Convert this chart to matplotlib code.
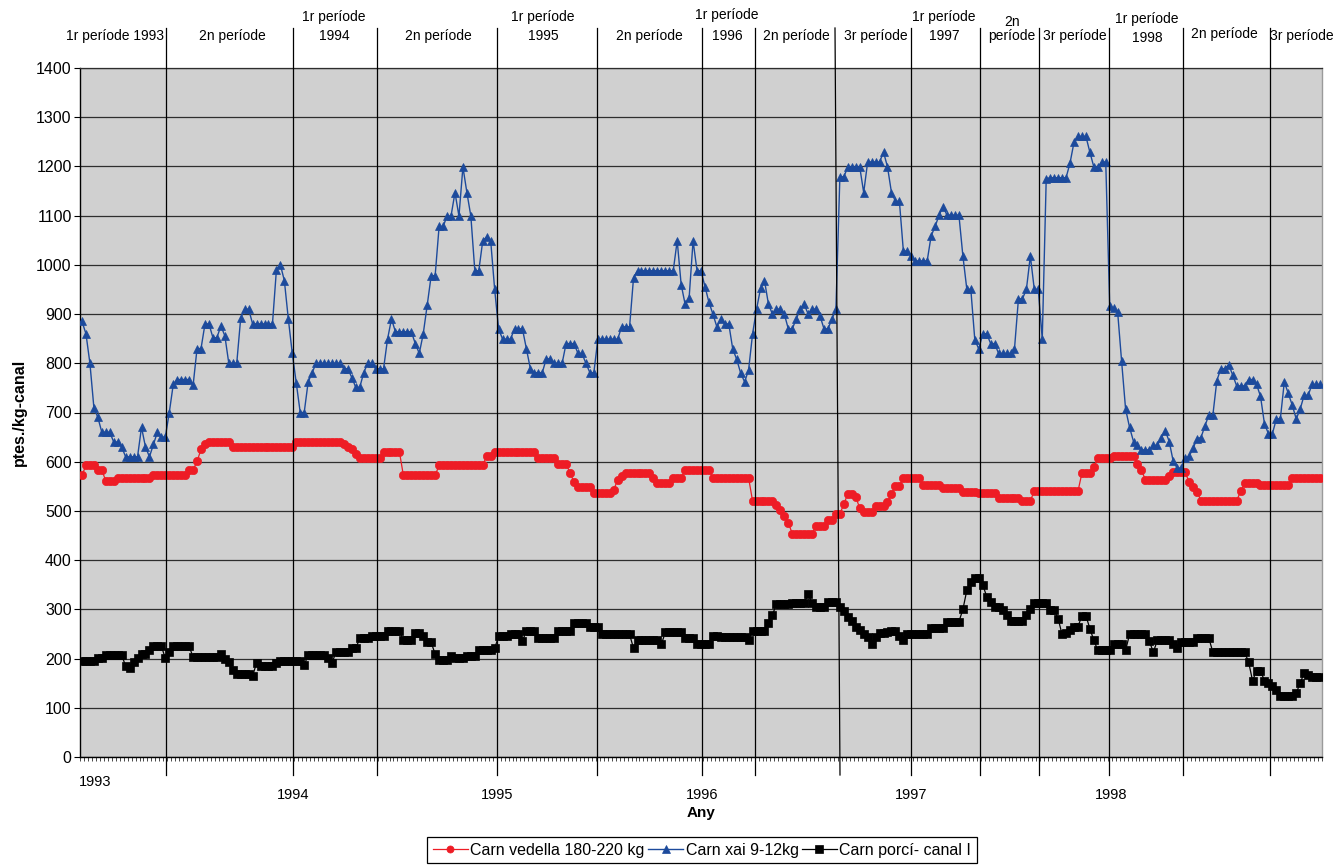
import numpy as np
import matplotlib
matplotlib.use('Agg')
import matplotlib.pyplot as plt
import matplotlib.transforms as mtransforms

plt.rcParams['font.family'] = ['Liberation Sans', 'DejaVu Sans']

# ---------------- data (weekly prices, ptes./kg-canal) ----------------
series_names = ["Carn vedella 180-220 kg", "Carn xai 9-12kg", "Carn porcí- canal I"]

vedella = [
    572, 593, 593, 593, 583, 583, 561, 561, 561, 567,
    567, 567, 567, 567, 567, 567, 567, 567, 572, 572,
    572, 572, 572, 572, 572, 572, 572, 583, 583, 601,
    625, 635, 641, 641, 641, 641, 641, 641, 630, 630,
    630, 630, 630, 630, 630, 630, 630, 630, 630, 630,
    630, 630, 630, 630,
    641, 641, 641, 641, 641, 641, 641, 641, 641, 641,
    641, 641, 635, 630, 625, 615, 607, 607, 607, 607,
    607, 607, 620, 620, 620, 620, 620, 572, 572, 572,
    572, 572, 572, 572, 572, 572, 593, 593, 593, 593,
    593, 593, 593, 593, 593, 593, 593, 593, 612, 612,
    620, 620, 620, 620, 620, 620, 620, 620, 620, 620,
    620, 607, 607, 607, 607, 607, 596, 596, 596, 577,
    559, 548, 548, 548, 548, 536, 536, 536, 536, 536,
    543, 563, 571, 577, 577, 577, 577, 577, 577, 577,
    567, 556, 556, 556, 556, 567, 567, 567, 583, 583,
    583, 583, 583, 583, 583,
    567, 567, 567, 567, 567, 567, 567, 567, 567, 567,
    520, 520, 520, 520, 520, 520, 513, 502, 490, 476,
    454, 454, 454, 454, 454, 454, 470, 470, 470, 481,
    481, 494, 494, 514, 535, 535, 528, 506, 497, 497,
    497, 510, 510, 510, 518, 535, 551, 551, 567, 567,
    567, 567, 567,
    553, 553, 553, 553, 553, 547, 547, 547, 547, 547,
    539, 539, 539, 539, 536, 536, 536, 536, 536, 526,
    526, 526, 526, 526, 526, 521, 521, 521, 540, 540,
    540, 540, 540, 540, 540, 540, 540, 540, 540, 540,
    577, 577, 577, 590, 607, 607, 607, 607,
    612, 612, 612, 612, 612, 612, 596, 583, 563, 563,
    563, 563, 563, 563, 571, 579, 579, 579, 579, 559,
    548, 539, 521, 521, 521, 521, 521, 521, 521, 521,
    521, 521, 540, 556, 556, 556, 556, 553, 553, 553,
    553, 553, 553, 553, 553, 567, 567, 567, 567, 567,
    567, 567, 567,
]

xai = [
    885, 860, 800, 710, 690, 660, 660, 660, 640, 640,
    630, 610, 610, 610, 610, 670, 630, 610, 635, 660,
    650, 650, 700, 757, 767, 767, 767, 767, 755, 830,
    830, 880, 880, 852, 852, 876, 856, 800, 800, 800,
    892, 910, 910, 880, 880, 880, 880, 880, 880, 990,
    1000, 968, 890, 820, 760, 700, 700,
    762, 781, 800, 800, 800, 800, 800, 800, 800, 789,
    789, 771, 751, 751, 781, 800, 800, 789, 789, 789,
    849, 890, 864, 864, 864, 864, 864, 840, 820, 860,
    918, 978, 978, 1078, 1078, 1099, 1099, 1147, 1099, 1199,
    1147, 1099, 988, 988, 1049, 1057, 1049,
    950, 870, 849, 849, 849, 870, 870, 870, 829, 789,
    781, 781, 781, 809, 809, 800, 800, 800, 840, 840,
    840, 820, 820, 800, 781, 781, 849, 849, 849, 849,
    849, 849, 874, 874, 874, 974, 988, 988, 988, 988,
    988, 988, 988, 988, 988, 988, 1049, 960, 920, 932,
    1049, 988, 988, 956, 924, 900, 874,
    890, 880, 880, 829, 808, 780, 762, 787, 860, 910,
    952, 968, 920, 900, 910, 910, 900, 870, 870, 890,
    910, 920, 900, 910, 910, 896, 870, 870, 890, 910,
    1179, 1179, 1199, 1199, 1199, 1199, 1147, 1209, 1209, 1209,
    1209, 1229, 1199, 1147, 1129, 1129, 1028, 1028, 1019, 1008,
    1008, 1008, 1008,
    1059, 1078, 1101, 1118, 1101, 1101, 1101, 1101, 1018, 950,
    950, 848, 829, 860, 860, 840, 840, 820, 820, 820,
    820, 829, 931, 931, 950, 1018, 950, 950, 849, 1175,
    1177, 1177, 1177, 1177, 1177, 1207, 1249, 1261, 1261, 1261,
    1229, 1199, 1199, 1209, 1209,
    916, 912, 904, 804, 707, 670, 641, 633, 624, 624,
    624, 633, 633, 649, 663, 641, 601, 587, 587, 607,
    611, 627, 647, 649, 673, 695, 695, 765, 789, 789,
    797, 776, 754, 754, 754, 767, 767, 757, 733, 677,
    657, 657, 687, 687, 762, 739, 715, 687, 707, 735,
    735, 757, 757, 757,
]

porci = [
    196, 196, 196, 196, 201, 201, 207, 207, 207, 207,
    207, 185, 180, 193, 201, 209, 209, 217, 225, 225,
    225, 201, 213, 225, 225, 225, 225, 225, 203, 203,
    203, 203, 203, 203, 203, 209, 200, 193, 176, 168,
    168, 168, 168, 165, 191, 184, 184, 184, 184, 191,
    195, 195, 195, 195, 195, 195,
    187, 207, 207, 207, 207, 207, 201, 191, 213, 213,
    213, 213, 221, 221, 241, 241, 241, 245, 245, 245,
    245, 256, 256, 256, 256, 237, 237, 237, 251, 251,
    245, 233, 233, 209, 197, 197, 197, 205, 201, 201,
    201, 205, 205, 205, 217, 217, 217, 217,
    221, 245, 245, 245, 249, 249, 249, 235, 257, 257,
    257, 241, 241, 241, 241, 241, 257, 257, 257, 257,
    273, 273, 273, 273, 265, 265, 265, 249, 249, 249,
    249, 249, 249, 249, 249, 221, 237, 237, 237, 237,
    237, 237, 229, 253, 253, 253, 253, 253, 241, 241,
    241, 229, 229, 229, 229,
    245, 245, 243, 243, 243, 243, 243, 243, 243, 237,
    257, 257, 257, 257, 273, 289, 310, 310, 310, 310,
    313, 313, 313, 313, 331, 313, 305, 305, 305, 315,
    315, 315, 305, 297, 285, 277, 265, 258, 250, 243,
    229, 243, 251, 251, 254, 257, 257, 245, 237, 249,
    249, 249, 249, 249, 249,
    263, 263, 263, 263, 275, 275, 275, 275, 300, 339,
    355, 363, 363, 350, 326, 315, 304, 304, 298, 289,
    277, 277, 277, 277, 289, 301, 313, 313, 313, 313,
    298, 298, 281, 249, 251, 258, 265, 265, 287, 287,
    261, 237,
    217, 217, 217, 217, 229, 229, 229, 217, 249, 249,
    249, 249, 249, 235, 213, 237, 237, 237, 237, 229,
    221, 233, 233, 233, 233, 241, 241, 241, 241, 213,
    213, 213, 213, 213, 213, 213, 213, 213, 193, 155,
    175, 175, 155, 150, 144, 136, 124, 124, 124, 124,
    130, 150, 171, 167, 163, 163, 163,
]

year_labels = ["1993", "1994", "1995", "1996", "1997", "1998"]
# period labels: (first line, second line)
period_labels = [
    ("1r període 1993", None), ("2n període", None), ("1r període", "1994"),
    ("2n període", None), ("1r període", "1995"), ("2n període", None),
    ("1r període", "1996"), ("2n període", None), ("3r període", None),
    ("1r període", "1997"), ("2n", "període"), ("3r període", None),
    ("1r període", "1998"), ("2n període", None), ("3r període", None),
]

# ---------------- layout ----------------
W, H = 1339, 867
fig = plt.figure(figsize=(W / 100, H / 100), dpi=100)
fig.patch.set_facecolor('white')


def fx(px):
    return px / W


def fy(py):
    return 1 - py / H


AX_L, AX_R, AX_T, AX_B = 80, 1322, 68, 757
ax = fig.add_axes([fx(AX_L), fy(AX_B), (AX_R - AX_L) / W, (AX_B - AX_T) / H])
ax.set_facecolor('#D0D0D0')

N = len(vedella)
ax.set_xlim(-0.5, N - 0.5)
ax.set_ylim(0, 1400)

ax.yaxis.grid(True, color='#2E2E2E', lw=0.9)
ax.set_axisbelow(True)

red = '#EE1C25'
blue = '#1C4A9C'
blk = '#000000'
l1, = ax.plot(np.arange(len(vedella)), vedella, color=red, lw=0.9, marker='o',
              ms=6.0, mfc=red, mec=red, mew=0.5, label=series_names[0], zorder=3)
l2, = ax.plot(np.arange(len(xai)), xai, color=blue, lw=1.0, marker='^',
              ms=6.4, mfc=blue, mec=blue, mew=0.5, label=series_names[1], zorder=4)
l3, = ax.plot(np.arange(len(porci)), porci, color=blk, lw=0.9, marker='s',
              ms=6.0, mfc=blk, mec=blk, mew=0.5, label=series_names[2], zorder=5)

ax.set_yticks(range(0, 1401, 100))
ax.tick_params(axis='y', length=4, width=0.8, direction='out', labelsize=11.5, pad=2)
ax.set_xticks([])
ax.set_xticks(np.arange(N + 1) - 0.5, minor=True)
ax.tick_params(axis='x', which='minor', length=3, width=0.5, direction='out', color='black')

for s in ['left', 'bottom']:
    ax.spines[s].set_color('black')
    ax.spines[s].set_linewidth(1.0)
ax.spines['top'].set_color('#2E2E2E')
ax.spines['top'].set_linewidth(0.9)
ax.spines['right'].set_color('#9A9A9A')
ax.spines['right'].set_linewidth(1.0)


def px_to_idx(px):
    return (px - AX_L) / ((AX_R - AX_L) / N) - 0.5


def py_to_axfrac(py):
    return (AX_B - py) / (AX_B - AX_T)


trans = mtransforms.blended_transform_factory(ax.transData, ax.transAxes)

# period boundary lines (pixel positions)
bounds_px = [166, 293, 377, 497, 597, 702, 755, (835, 840), 911, 980, 1039, 1109, 1183, 1270]
y_top = py_to_axfrac(28)
y_bot = py_to_axfrac(775)
for b in bounds_px:
    if isinstance(b, tuple):
        xt, xb = px_to_idx(b[0]), px_to_idx(b[1])
    else:
        xt = xb = px_to_idx(b)
    ax.plot([xb, xt], [y_bot, y_top], transform=trans, clip_on=False,
            color='black', lw=0.9, zorder=6)

# period labels at the top
top_pos = [
    (115, 36, None), (232, 36, None), (334, 17, 36), (438, 36, None),
    (543, 17, 36), (649, 36, None), (727, 15, 36), (796, 36, None),
    (876, 36, None), (944, 17, 36), (1012, 22, 36), (1075, 36, None),
    (1147, 19, 38), (1224, 34, None), (1302, 36, None),
]
for (t1, t2), (cx, y1, y2) in zip(period_labels, top_pos):
    fig.text(fx(cx), fy(y1), t1, ha='center', va='center', fontsize=10)
    if t2 is not None:
        fig.text(fx(cx), fy(y2), t2, ha='center', va='center', fontsize=10)

# year labels under the axis
year_px = [(95, 782), (293, 795), (497, 795), (702, 795), (911, 795), (1111, 795)]
for lab, (px, py) in zip(year_labels, year_px):
    fig.text(fx(px), fy(py), lab, ha='center', va='center', fontsize=10.5)

fig.text(fx(701), fy(813), "Any", ha='center', va='center', fontsize=11, fontweight='bold')
fig.text(fx(19), fy(412), "ptes./kg-canal", ha='center', va='center', rotation=90,
         fontsize=11.5, fontweight='bold')

leg = fig.legend(handles=[l1, l2, l3], labels=series_names, loc='upper center',
                 bbox_to_anchor=(fx(702), fy(837)), ncol=3, frameon=True, fancybox=False,
                 edgecolor='black', framealpha=1, fontsize=11.5, borderpad=0.35,
                 handlelength=2.2, handletextpad=0.15, columnspacing=0.2,
                 markerscale=0.85, borderaxespad=0)
leg.get_frame().set_linewidth(0.9)

fig.savefig('out.png', dpi=100, facecolor='white')
